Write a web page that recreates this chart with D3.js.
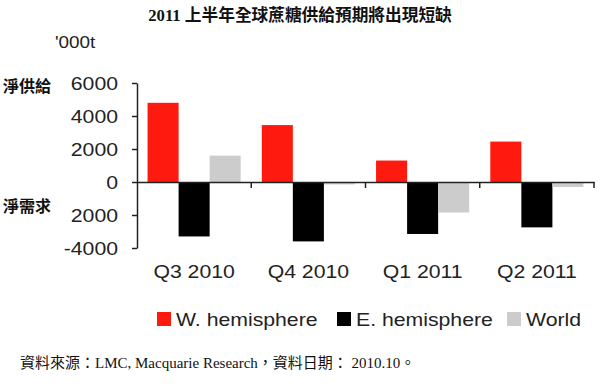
<!DOCTYPE html>
<html>
<head>
<meta charset="utf-8">
<script src="https://cdn.jsdelivr.net/npm/d3@7"></script>
<style>
  body { margin: 0; background: #fff; }
  svg { display: block; }
  .lat { font-family: "Liberation Sans", Arial, sans-serif; fill: #222; }
  .cjk { font-family: "Liberation Serif", "Noto Sans CJK TC", serif; fill: #111; }
</style>
</head>
<body>
<svg id="chart" width="600" height="386"></svg>
<script>
// chart data
const categories = ["Q3 2010", "Q4 2010", "Q1 2011", "Q2 2011"];
const series = ["W. hemisphere", "E. hemisphere", "World"];
const wHemisphere = [4800, 3450, 1300, 2450];
const eHemisphere = [-3300, -3600, -3150, -2750];
const world = [1600, -150, -1850, -300];
const yTicks = [-4000, -2000, 0, 2000, 4000, 6000];
const yTickLabels = ["-4000", "2000", "0", "2000", "4000", "6000"];
const colors = ["#ff1a10", "#000000", "#cccccc"];

const values = [wHemisphere, eHemisphere, world];
const stretch = 1.18;

const svg = d3.select("#chart");

const x = d3.scaleBand()
    .domain(categories)
    .range([137, 594])
    .padding(0);

const xs = d3.scaleBand()
    .domain(series)
    .range([0, x.bandwidth()])
    .paddingInner(0)
    .paddingOuter(0.34);

const y = d3.scaleLinear()
    .domain([-4000, 6000])
    .range([248, 83]);

// bars
series.forEach(function (s, i) {
    svg.append("g")
        .selectAll("rect")
        .data(categories)
        .enter().append("rect")
        .attr("x", c => x(c) + xs(s))
        .attr("width", xs.bandwidth())
        .attr("y", (c, j) => y(Math.max(0, values[i][j])))
        .attr("height", (c, j) => Math.abs(y(values[i][j]) - y(0)))
        .attr("fill", colors[i]);
});

// y axis
const yAxis = svg.append("g")
    .attr("transform", "translate(137,0)")
    .call(d3.axisLeft(y).tickValues(yTicks).tickFormat((d, i) => yTickLabels[i]).tickSize(5).tickSizeOuter(0));
yAxis.select(".domain").attr("stroke", "#222").attr("stroke-width", 1.5);
yAxis.selectAll(".tick line").attr("stroke", "#222").attr("stroke-width", 1.5);
yAxis.selectAll(".tick text")
    .attr("class", "lat")
    .attr("x", -19 / stretch)
    .attr("dy", "0.34em")
    .attr("transform", `scale(${stretch},1)`)
    .style("font-size", "18px");

// zero line with category boundary ticks
const zero = svg.append("g")
    .attr("transform", `translate(0,${y(0)})`)
    .call(d3.axisBottom(x).tickValues(categories).tickFormat("").tickSize(0).tickSizeOuter(0));
zero.select(".domain").attr("stroke", "#222").attr("stroke-width", 1.5);
zero.selectAll(".tick").remove();
zero.selectAll("line.bound")
    .data(categories)
    .enter().append("line")
    .attr("class", "bound")
    .attr("x1", c => x(c) + x.bandwidth())
    .attr("x2", c => x(c) + x.bandwidth())
    .attr("y1", 0)
    .attr("y2", 6)
    .attr("stroke", "#222")
    .attr("stroke-width", 1.5);

// category labels
const xAxis = svg.append("g")
    .attr("transform", "translate(0,262)")
    .call(d3.axisBottom(x).tickSize(0));
xAxis.select(".domain").remove();
xAxis.selectAll(".tick text")
    .attr("class", "lat")
    .attr("dy", "0.71em")
    .attr("transform", `scale(${stretch},1)`)
    .style("font-size", "18px");

// legend
const legendX = [157, 337, 507];
const legend = svg.append("g");
series.forEach(function (s, i) {
    legend.append("rect")
        .attr("x", legendX[i])
        .attr("y", 312)
        .attr("width", 14)
        .attr("height", 14)
        .attr("fill", colors[i]);
    legend.append("text")
        .attr("class", "lat")
        .attr("x", (legendX[i] + 19) / stretch)
        .attr("y", 326)
        .attr("transform", `scale(${stretch},1)`)
        .style("font-size", "18px")
        .text(s);
});

// titles and notes
svg.append("text")
    .attr("class", "cjk")
    .attr("x", 300)
    .attr("y", 21)
    .attr("text-anchor", "middle")
    .style("font-size", "16.7px")
    .style("font-weight", "bold")
    .text("2011 上半年全球蔗糖供給預期將出現短缺");

svg.append("text")
    .attr("class", "lat")
    .attr("x", 55 / stretch)
    .attr("y", 48)
    .attr("transform", `scale(${stretch},1)`)
    .style("font-size", "16px")
    .text("'000t");

svg.append("text")
    .attr("class", "cjk")
    .attr("x", 3)
    .attr("y", 92)
    .style("font-size", "16px")
    .style("font-weight", "bold")
    .text("淨供給");

svg.append("text")
    .attr("class", "cjk")
    .attr("x", 3)
    .attr("y", 212)
    .style("font-size", "16px")
    .style("font-weight", "bold")
    .text("淨需求");

svg.append("text")
    .attr("class", "cjk")
    .attr("x", 20)
    .attr("y", 368)
    .style("font-size", "15px")
    .text("資料來源：LMC, Macquarie Research，資料日期： 2010.10。");
</script>
</body>
</html>
